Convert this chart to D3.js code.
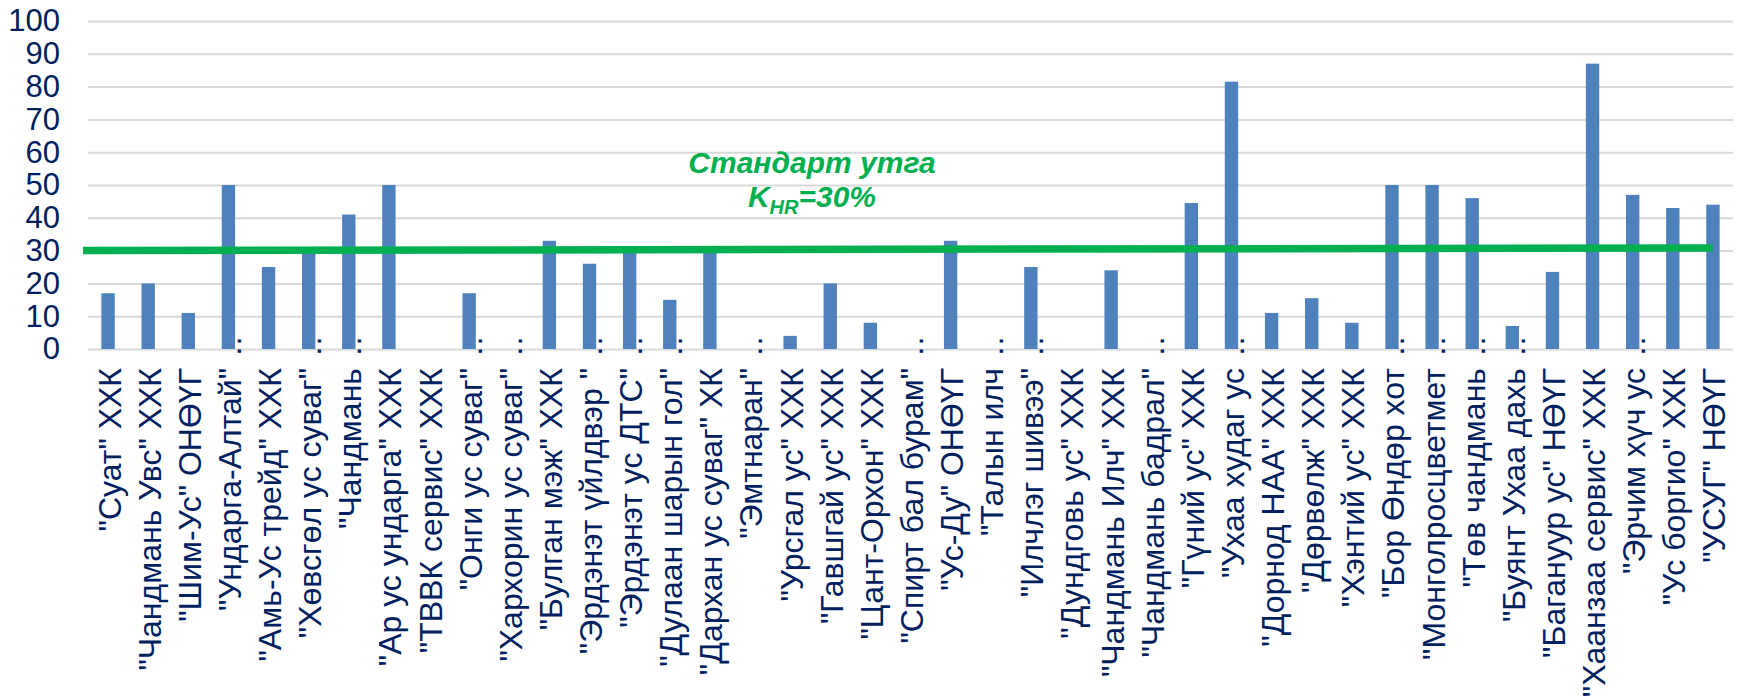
<!DOCTYPE html>
<html>
<head>
<meta charset="utf-8">
<script src="https://cdn.jsdelivr.net/npm/d3@7/dist/d3.min.js"></script>
<style>
  body { margin: 0; background: #ffffff; }
  #chart { width: 1738px; height: 698px; }
</style>
</head>
<body>
<div id="chart"></div>
<script>
// company names as they appear on the axis (Excel truncated the long ones)
const companies = [
  '"Суат" ХХК', '"Чандмань Увс" ХХК', '"Шим-Ус" ОНӨҮГ', '"Ундарга-Алтай"…',
  '"Амь-Ус трейд" ХХК', '"Хөвсгөл ус суваг"…', '"Чандмань…', '"Ар ус ундарга" ХХК',
  '"ТВВК сервис" ХХК', '"Онги ус суваг"…', '"Хархорин ус суваг"…', '"Булган мэж" ХХК',
  '"Эрдэнэт үйлдвэр "…', '"Эрдэнэт ус ДТС"…', '"Дулаан шарын гол"…', '"Дархан ус суваг" ХК',
  '"Эмтнаран"…', '"Урсгал ус" ХХК', '"Гавшгай ус" ХХК', '"Цант-Орхон" ХХК',
  '"Спирт бал бурам"…', '"Ус-Ду" ОНӨҮГ', '"Талын илч…', '"Илчлэг шивээ"…',
  '"Дундговь ус" ХХК', '"Чандмань Илч" ХХК', '"Чандмань бадрал"…', '"Гүний ус" ХХК',
  '"Ухаа худаг ус…', '"Дорнод НАА" ХХК', '"Дөрвөлж" ХХК', '"Хэнтий ус" ХХК',
  '"Бор Өндөр хот…', '"Монголросцветмет…', '"Төв чандмань…', '"Буянт Ухаа дахь…',
  '"Багануур ус" НӨҮГ', '"Хаанзаа сервис" ХХК', '"Эрчим хүч ус…', '"Ус боргио" ХХК',
  '"УСУГ" НӨҮГ'
];

// K_HR, %
const values = [
  17, 20, 11, 50,
  25, 30, 41, 50,
  0, 17, 0, 33,
  26, 30, 15, 30,
  0, 4, 20, 8,
  0, 33, 0, 25,
  0, 24, 0, 44.5,
  81.5, 11, 15.5, 8,
  50, 50, 46, 7,
  23.5, 87, 47, 43,
  44
];

const yTicks = [0, 10, 20, 30, 40, 50, 60, 70, 80, 90, 100];

// standard line (drawn a bit tilted in the original: 30 on the left, ~30.8 on the right)
const standardStart = 30;
const standardEnd = 30.8;
const standardTitle = 'Стандарт утга';

function drawChart() {
  const width = 1738;
  const height = 698;
  const plot = { left: 88, right: 1733, top: 21, bottom: 349 };

  const navy = '#002060';
  const green = '#00b050';
  const labelSize = 32;

  const svg = d3.select('#chart')
    .append('svg')
    .attr('width', width)
    .attr('height', height)
    .style('font-family', '"Liberation Sans", Arial, sans-serif');

  const x = d3.scaleBand()
    .domain(d3.range(companies.length))
    .range([plot.left, plot.right])
    .paddingInner(0.667)
    .paddingOuter(0.3335);

  const y = d3.scaleLinear()
    .domain([0, 100])
    .range([plot.bottom, plot.top]);

  // y axis + gridlines
  const yAxis = svg.append('g')
    .attr('transform', `translate(${plot.left},0)`)
    .call(d3.axisLeft(y)
      .tickValues(yTicks)
      .tickSize(-(plot.right - plot.left))
      .tickPadding(28));

  yAxis.select('.domain').remove();
  yAxis.selectAll('line')
    .attr('stroke', '#d9d9d9')
    .attr('stroke-width', 2);
  yAxis.selectAll('text')
    .attr('fill', navy)
    .style('font-size', '31px')
    .style('font-family', '"Liberation Sans", Arial, sans-serif');

  // bars
  svg.append('g')
    .selectAll('rect')
    .data(values)
    .join('rect')
    .attr('x', (d, i) => x(i))
    .attr('y', d => y(d))
    .attr('width', x.bandwidth())
    .attr('height', d => y(0) - y(d))
    .attr('fill', '#4f81bd');

  // x axis labels (rotated)
  svg.append('clipPath')
    .attr('id', 'label-clip')
    .append('rect')
    .attr('x', 0)
    .attr('y', -13)
    .attr('width', width)
    .attr('height', height);

  const xAxis = svg.append('g')
    .attr('transform', `translate(0,${plot.bottom})`)
    .attr('clip-path', 'url(#label-clip)')
    .call(d3.axisBottom(x)
      .tickSize(0)
      .tickFormat(i => companies[i].replace(/…$/, '')));

  xAxis.select('.domain').remove();
  xAxis.selectAll('text')
    .attr('transform', 'rotate(-90)')
    .attr('x', -19)
    .attr('y', 0)
    .attr('dy', '0.39em')
    .attr('fill', navy)
    .style('text-anchor', 'end')
    .style('font-size', labelSize + 'px')
    .style('font-family', '"Liberation Sans", Arial, sans-serif');

  // Excel puts the ellipsis a bit away from the cut text
  xAxis.selectAll('.tick')
    .filter(i => companies[i].endsWith('…'))
    .append('text')
    .attr('transform', 'rotate(-90)')
    .attr('x', 24)
    .attr('y', 0)
    .attr('dy', '0.39em')
    .attr('fill', navy)
    .style('text-anchor', 'end')
    .style('font-size', labelSize + 'px')
    .text('…');

  // standard line
  const stdLine = [
    { px: plot.left - 5, v: standardStart },
    { px: x(companies.length - 1) + x.bandwidth() / 2, v: standardEnd }
  ];
  svg.append('path')
    .datum(stdLine)
    .attr('d', d3.line().x(d => d.px).y(d => y(d.v)))
    .attr('stroke', green)
    .attr('stroke-width', 7.5)
    .attr('fill', 'none');

  // annotation
  const note = svg.append('g')
    .attr('fill', green)
    .style('font-weight', 'bold')
    .style('font-style', 'italic')
    .style('font-size', '30px')
    .attr('text-anchor', 'middle');

  note.append('text')
    .attr('x', 812)
    .attr('y', 173)
    .text(standardTitle);

  const kText = note.append('text')
    .attr('x', 812)
    .attr('y', 207);
  kText.append('tspan').text('K');
  kText.append('tspan')
    .attr('dy', 7)
    .style('font-size', '20px')
    .text('HR');
  kText.append('tspan')
    .attr('dy', -7)
    .text(`=${standardStart}%`);
}

drawChart();
</script>
</body>
</html>
